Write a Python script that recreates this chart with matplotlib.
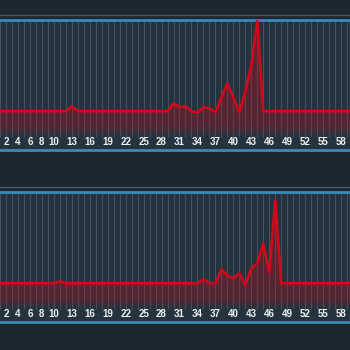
import numpy as np
import matplotlib.pyplot as plt
from matplotlib.colors import LinearSegmentedColormap

# x categories 1..60
x = list(range(1, 61))
top_values = [14, 14, 14, 14, 14, 14, 14, 14, 14, 14,
              14, 14, 19, 14, 14, 14, 14, 14, 14, 14,
              14, 14, 14, 14, 14, 14, 14, 14, 14, 22,
              18, 19, 14, 13, 18, 17, 13, 28, 42, 28,
              13, 34, 60, 105, 14, 14, 14, 14, 14, 14,
              14, 14, 14, 14, 14, 14, 14, 14, 14, 14]
bottom_values = [14, 14, 14, 14, 14, 14, 14, 14, 14, 14,
                 16, 14, 14, 14, 14, 14, 14, 14, 14, 14,
                 14, 14, 14, 14, 14, 14, 14, 14, 14, 14,
                 14, 14, 14, 14, 18, 14, 14, 28, 22, 19,
                 24, 12, 29, 34, 54, 25, 97, 14, 14, 14,
                 14, 14, 14, 14, 14, 14, 14, 14, 14, 14]
tick_labels = [2, 4, 6, 8, 10, 13, 16, 19, 22, 25, 28, 31, 34, 37, 40, 43, 46, 49, 52, 55, 58]

BG = "#1b2731"
PANEL = "#25333e"
BLUE = "#3b89b9"
RED = "#d4061a"


def draw_panel(ax, values):
    ax.set_facecolor(PANEL)
    ax.set_xlim(1, 59.5)
    ax.set_ylim(-25, 106)

    # vertical grid, one line per category
    ax.vlines(x, -12, 106, color="#7a858d", linewidth=0.5, alpha=0.55, zorder=1)

    # gradient fill under the line
    poly = ax.fill_between(x, values, -12, facecolor="none", edgecolor="none")
    cmap = LinearSegmentedColormap.from_list(
        "redfade", [(0.0, (0.8, 0.02, 0.1, 0.0)),
                    (0.09, (0.8, 0.02, 0.1, 0.28)),
                    (1.0, (0.8, 0.02, 0.1, 0.38))])
    grad = np.linspace(1, 0, 300).reshape(-1, 1)
    im = ax.imshow(grad, extent=[1, 60, -12, 106], aspect="auto", cmap=cmap,
                   origin="upper", zorder=2)
    im.set_clip_path(poly.get_paths()[0], transform=ax.transData)

    ax.plot(x, values, color=RED, linewidth=1.9, zorder=3)

    for s in ["left", "right"]:
        ax.spines[s].set_visible(False)
    for s in ["top", "bottom"]:
        ax.spines[s].set_color(BLUE)
        ax.spines[s].set_linewidth(2)
    # thin grey rule just above the panel
    ax.plot([0, 1], [1.038, 1.038], transform=ax.transAxes, color="#48565f",
            linewidth=1, clip_on=False)

    ax.set_yticks([])
    ax.set_xticks(tick_labels)
    ax.set_xticklabels([str(t) for t in tick_labels], color="#eef0f2",
                       fontsize=7, fontweight="bold", family="Liberation Sans")
    ax.tick_params(axis="x", length=0, pad=-9.5)


def main():
    fig = plt.figure(figsize=(3.5, 3.5), dpi=100, facecolor=BG)
    ax1 = fig.add_axes([0, 200 / 350, 1, 130 / 350])
    ax2 = fig.add_axes([0, 28 / 350, 1, 130 / 350])
    draw_panel(ax1, top_values)
    draw_panel(ax2, bottom_values)
    fig.savefig("out.png", dpi=100, facecolor=BG)


if __name__ == "__main__":
    main()
